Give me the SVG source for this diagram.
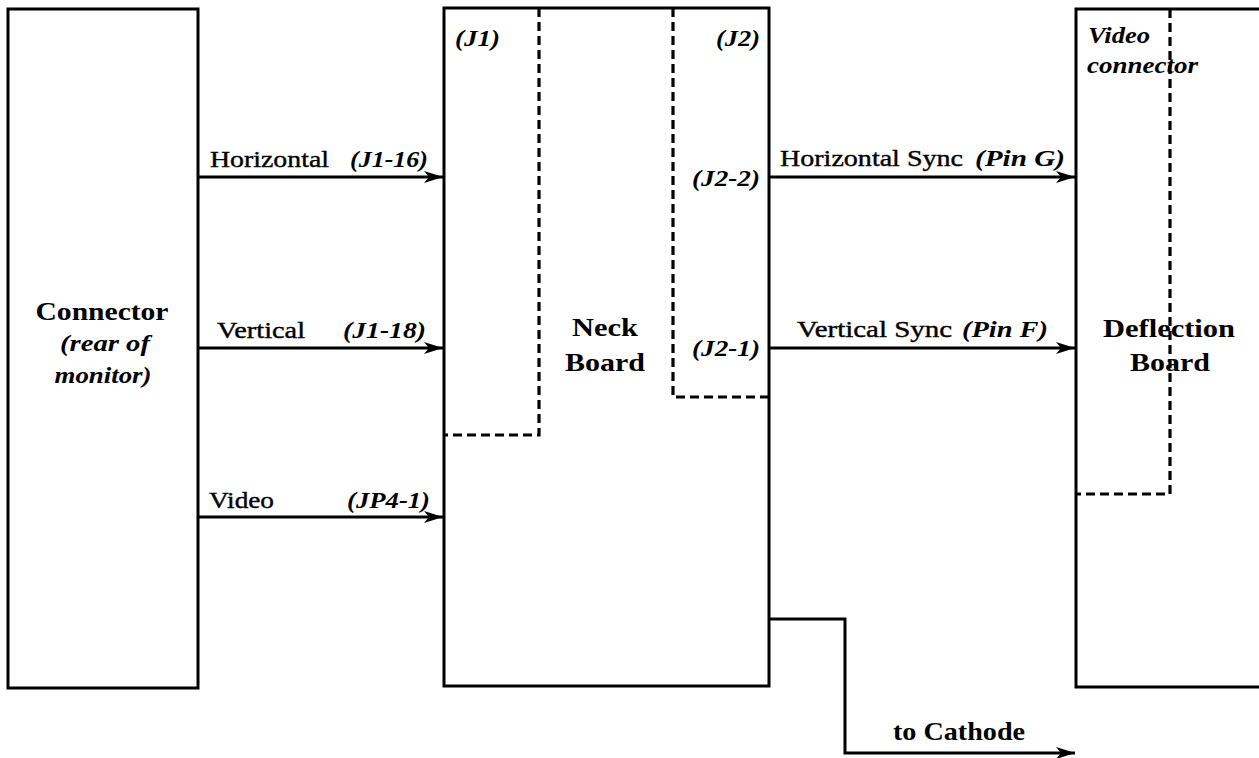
<svg xmlns="http://www.w3.org/2000/svg" width="1259" height="758" viewBox="0 0 1259 758">
<defs>
<style>
.box{fill:none;stroke:#000;stroke-width:3}
.dash{fill:none;stroke:#000;stroke-width:3.2;stroke-dasharray:9 5}
.wire{fill:none;stroke:#000;stroke-width:3}
text{font-family:"Liberation Serif","Times New Roman",serif;fill:#000}
.lbl{font-size:24px;stroke:#000;stroke-width:0.4}
.it{font-size:24px;font-style:italic;font-weight:bold}
.bold{font-size:25px;font-weight:bold}
</style>
<marker id="arr" markerWidth="20" markerHeight="14" refX="19" refY="7" orient="auto" markerUnits="userSpaceOnUse">
<path d="M0,1 L19,7 L0,13 L5,7 Z" fill="#000"/>
</marker>
</defs>
<rect width="1259" height="758" fill="#fff"/>

<g id="connector">
<rect class="box" x="8" y="9" width="190" height="679"/>
<text class="bold" x="102" y="320" text-anchor="middle" textLength="133" lengthAdjust="spacingAndGlyphs">Connector</text>
<text class="it" x="105" y="351" text-anchor="middle" textLength="90" lengthAdjust="spacingAndGlyphs">(rear of</text>
<text class="it" x="103" y="383" text-anchor="middle" textLength="97" lengthAdjust="spacingAndGlyphs">monitor)</text>
</g>

<g id="neck-board">
<rect class="box" x="444" y="8" width="325" height="678"/>
<path class="dash" d="M539,8 V435 H444"/>
<path class="dash" d="M673,8 V397 H769"/>
<text class="it" x="455" y="46" textLength="45" lengthAdjust="spacingAndGlyphs">(J1)</text>
<text class="it" x="716" y="46" textLength="44" lengthAdjust="spacingAndGlyphs">(J2)</text>
<text class="it" x="692" y="186" textLength="68" lengthAdjust="spacingAndGlyphs">(J2-2)</text>
<text class="it" x="692" y="356" textLength="68" lengthAdjust="spacingAndGlyphs">(J2-1)</text>
<text class="bold" x="605" y="336" text-anchor="middle" textLength="66" lengthAdjust="spacingAndGlyphs">Neck</text>
<text class="bold" x="605" y="371" text-anchor="middle" textLength="80" lengthAdjust="spacingAndGlyphs">Board</text>
</g>

<g id="deflection-board">
<path class="box" d="M1262,9 H1076 V687 H1262"/>
<path class="dash" d="M1170,9 V494 H1076"/>
<text class="it" x="1088" y="43" textLength="62" lengthAdjust="spacingAndGlyphs">Video</text>
<text class="it" x="1087" y="73" textLength="111" lengthAdjust="spacingAndGlyphs">connector</text>
<text class="bold" x="1103" y="337" textLength="132" lengthAdjust="spacingAndGlyphs">Deflection</text>
<text class="bold" x="1130" y="371" textLength="80" lengthAdjust="spacingAndGlyphs">Board</text>
</g>

<g id="connectors">
<line class="wire" x1="198" y1="177" x2="443" y2="177" marker-end="url(#arr)"/>
<line class="wire" x1="198" y1="348" x2="443" y2="348" marker-end="url(#arr)"/>
<line class="wire" x1="198" y1="517" x2="443" y2="517" marker-end="url(#arr)"/>
<line class="wire" x1="769" y1="177" x2="1075" y2="177" marker-end="url(#arr)"/>
<line class="wire" x1="769" y1="348" x2="1075" y2="348" marker-end="url(#arr)"/>
<path class="wire" d="M769,619 H845 V753 H1075" marker-end="url(#arr)"/>
<text class="lbl" x="210" y="167" textLength="119" lengthAdjust="spacingAndGlyphs">Horizontal</text>
<text class="it" x="350" y="167" textLength="78" lengthAdjust="spacingAndGlyphs">(J1-16)</text>
<text class="lbl" x="217" y="338" textLength="88" lengthAdjust="spacingAndGlyphs">Vertical</text>
<text class="it" x="343" y="338" textLength="83" lengthAdjust="spacingAndGlyphs">(J1-18)</text>
<text class="lbl" x="209" y="508" textLength="65" lengthAdjust="spacingAndGlyphs">Video</text>
<text class="it" x="347" y="508" textLength="83" lengthAdjust="spacingAndGlyphs">(JP4-1)</text>
<text class="lbl" x="780" y="166" textLength="183" lengthAdjust="spacingAndGlyphs">Horizontal Sync</text>
<text class="it" x="975" y="166" textLength="90" lengthAdjust="spacingAndGlyphs">(Pin G)</text>
<text class="lbl" x="797" y="337" textLength="155" lengthAdjust="spacingAndGlyphs">Vertical Sync</text>
<text class="it" x="962" y="337" textLength="86" lengthAdjust="spacingAndGlyphs">(Pin F)</text>
<text class="bold" x="893" y="740" textLength="132" lengthAdjust="spacingAndGlyphs">to Cathode</text>
</g>
</svg>
